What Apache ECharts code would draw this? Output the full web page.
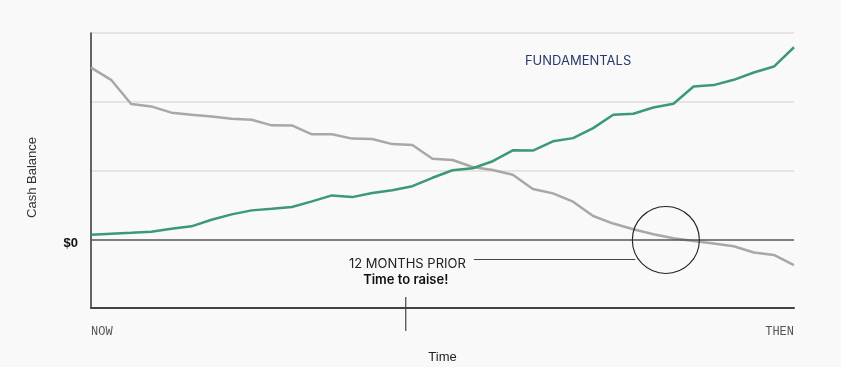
<!DOCTYPE html>
<html>
<head>
<meta charset="utf-8">
<script src="https://cdn.jsdelivr.net/npm/echarts@6/dist/echarts.min.js"></script>
<style>
html,body{margin:0;padding:0;background:#f9f9f9;}
#chart{width:841px;height:367px;}
</style>
</head>
<body>
<div id="chart"></div>
<script>
// Time periods (NOW -> THEN)
const periods = [0,1,2,3,4,5,6,7,8,9,10,11,12,13,14,15,16,17,18,19,20,21,22,23,24,25,26,27,28,29,30,31,32,33,34,35];
const xTickLabels = ['NOW', 'THEN'];
// Green line: fundamentals
const fundamentals = [0.065,0.080,0.094,0.109,0.152,0.188,0.283,0.362,0.420,0.442,0.468,0.551,0.638,0.613,0.674,0.714,0.772,0.894,1.004,1.033,1.135,1.294,1.290,1.425,1.471,1.616,1.812,1.826,1.917,1.971,2.222,2.242,2.319,2.425,2.512,2.793];
// Gray line: cash balance
const cashBalance = [2.497,2.319,1.967,1.932,1.841,1.812,1.787,1.754,1.739,1.657,1.655,1.526,1.526,1.464,1.457,1.384,1.372,1.171,1.152,1.051,1.007,0.939,0.732,0.667,0.546,0.338,0.228,0.145,0.072,0.014,-0.025,-0.062,-0.101,-0.193,-0.228,-0.377];
// Annotation anchors (data coordinates)
const zeroCrossing = [28.62, -0.01];
const pointerY = -0.29;
const pointerFromX = 19.06;
const pointerToX = 27.1;
const raiseX = 15.67;
const fundamentalsLabelAt = [24.25, 2.59];

const chart = echarts.init(document.getElementById('chart'));
const option = {
  backgroundColor: '#f9f9f9',
  animation: false,
  grid: {left: 91, right: 47, top: 33, bottom: 59, outerBoundsMode: 'none', containLabel: false},
  xAxis: {
    type: 'value', min: 0, max: 35, interval: 35,
    name: 'Time', nameLocation: 'middle', nameGap: 43,
    nameTextStyle: {fontFamily: 'Liberation Sans, Arial', fontSize: 13, color: '#222'},
    axisLine: {show: true, onZero: false, lineStyle: {color: '#444', width: 2}},
    axisTick: {show: false},
    splitLine: {show: false},
    axisLabel: {
      margin: 18, color: '#555', fontSize: 12,
      fontFamily: 'Courier New, Liberation Mono, monospace',
      formatter: v => v === 0 ? xTickLabels[0] : (v === 35 ? xTickLabels[1] : ''),
      alignMinLabel: 'left', alignMaxLabel: 'right'
    }
  },
  yAxis: {
    type: 'value', min: -1, max: 3, interval: 1,
    name: 'Cash Balance', nameLocation: 'middle', nameGap: 52, nameRotate: 90,
    nameTextStyle: {fontFamily: 'Liberation Sans, Arial', fontSize: 13, color: '#333', padding: [0, 14, 0, 0]},
    axisLine: {show: true, lineStyle: {color: '#333', width: 1.5}},
    axisTick: {show: false},
    splitLine: {show: true, lineStyle: {color: ['transparent', 'transparent', '#dcdcdc', '#dcdcdc', '#dcdcdc'], width: 1.5}},
    axisLabel: {
      margin: 13, color: '#111', fontSize: 13, fontWeight: 'bold',
      fontFamily: 'Liberation Sans, Arial', verticalAlign: 'top', lineHeight: 9,
      formatter: v => v === 0 ? '$0' : ''
    }
  },
  series: [
    {
      type: 'line', name: 'Fundamentals',
      data: periods.map((p, i) => [p, fundamentals[i]]),
      symbol: 'none', smooth: false,
      lineStyle: {color: '#3b9a74', width: 2.5},
      z: 3
    },
    {
      type: 'line', name: 'Cash',
      data: periods.map((p, i) => [p, cashBalance[i]]),
      symbol: 'none', smooth: false,
      lineStyle: {color: '#aba7a3', width: 2.5},
      z: 2,
      markLine: {
        silent: true, symbol: 'none', label: {show: false},
        data: [
          {yAxis: 0, lineStyle: {color: '#555', width: 1.5, type: 'solid'}},
          [{coord: [pointerFromX, pointerY], lineStyle: {color: '#444', width: 1.2, type: 'solid'}}, {coord: [pointerToX, pointerY]}]
        ]
      },
      markPoint: {
        silent: true,
        data: [{coord: zeroCrossing, symbol: 'circle', symbolSize: 67,
          itemStyle: {color: 'rgba(0,0,0,0)', borderColor: '#222', borderWidth: 1.1},
          label: {show: false}}]
      }
    }
  ]
};
chart.setOption(option);

const pTick1 = chart.convertToPixel({gridIndex: 0}, [raiseX, -0.84]);
const pTick2 = chart.convertToPixel({gridIndex: 0}, [raiseX, -1.335]);
const pText = chart.convertToPixel({gridIndex: 0}, [raiseX, pointerY]);
const pEnd = chart.convertToPixel({gridIndex: 0}, [pointerFromX, pointerY]);
const pF = chart.convertToPixel({gridIndex: 0}, fundamentalsLabelAt);

chart.setOption({
  graphic: [
    {type: 'line', shape: {x1: pTick1[0], y1: pTick1[1], x2: pTick2[0], y2: pTick2[1]},
      style: {stroke: '#444', lineWidth: 1.2}},
    {type: 'text', x: pEnd[0] - 8, y: pText[1] + 5,
      style: {text: '12 MONTHS PRIOR', fill: '#222', font: '400 13px Inter, sans-serif', textAlign: 'right', textVerticalAlign: 'middle'}},
    {type: 'text', x: pText[0], y: pText[1] + 21,
      style: {text: 'Time to raise!', fill: '#111', font: '600 13px Inter, sans-serif', textAlign: 'center', textVerticalAlign: 'middle'}},
    {type: 'text', x: pF[0], y: pF[1],
      style: {text: 'FUNDAMENTALS', fill: '#2b3a67', font: '400 13px Inter, sans-serif', textAlign: 'center', textVerticalAlign: 'middle'}}
  ]
});
</script>
</body>
</html>
